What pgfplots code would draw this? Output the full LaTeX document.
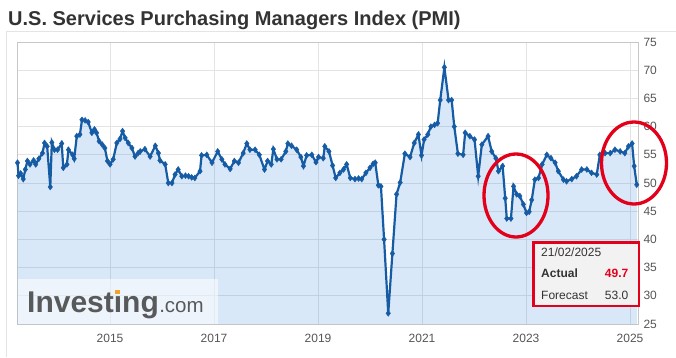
\documentclass[border=0pt]{standalone}
\usepackage{pgfplots}
\pgfplotsset{compat=1.18}
\usepackage{pgfplotstable}
\usepackage{fontspec}
\setmainfont{Liberation Sans}
\definecolor{pmiline}{RGB}{22,92,164}
\definecolor{pmifill}{RGB}{30,120,220}
\definecolor{gridc}{RGB}{228,228,228}
\definecolor{txt}{RGB}{51,51,51}
\definecolor{ticktxt}{RGB}{85,85,85}
\definecolor{redc}{RGB}{226,0,26}
\definecolor{logoc}{RGB}{88,89,91}
\definecolor{logodot}{RGB}{245,160,40}
\newlength\invw
\pgfplotstableread{
year value
2013.22 53.6
2013.24 51.3
2013.28 51.7
2013.33 50.7
2013.37 52.4
2013.41 53.9
2013.46 53.3
2013.53 54.0
2013.57 53.3
2013.63 54.3
2013.70 55.3
2013.74 57.1
2013.79 56.5
2013.85 49.3
2013.88 57.2
2013.93 55.9
2013.99 55.9
2014.07 57.0
2014.10 52.7
2014.17 53.3
2014.20 55.9
2014.28 55.0
2014.31 54.3
2014.36 58.3
2014.42 58.6
2014.46 61.2
2014.52 61.1
2014.58 60.8
2014.65 58.9
2014.70 59.5
2014.74 58.9
2014.79 57.4
2014.85 56.8
2014.90 56.2
2014.95 53.9
2015.00 53.3
2015.06 54.2
2015.13 57.1
2015.19 57.8
2015.24 59.2
2015.29 58.0
2015.35 57.1
2015.42 56.2
2015.48 54.7
2015.54 55.3
2015.58 55.6
2015.67 56.0
2015.77 54.7
2015.87 56.6
2015.93 55.3
2015.96 54.0
2016.06 53.3
2016.12 50.0
2016.19 50.0
2016.25 51.5
2016.31 52.4
2016.38 51.2
2016.45 51.3
2016.51 51.2
2016.57 51.0
2016.63 50.9
2016.73 52.1
2016.76 54.9
2016.86 55.0
2016.96 53.6
2017.07 55.6
2017.15 54.2
2017.21 53.3
2017.31 52.5
2017.39 53.9
2017.47 53.6
2017.56 55.3
2017.63 57.0
2017.69 55.9
2017.79 55.9
2017.87 55.0
2017.97 52.4
2018.03 53.9
2018.10 53.3
2018.14 56.0
2018.21 54.2
2018.29 54.2
2018.38 55.6
2018.42 57.0
2018.49 56.6
2018.59 55.9
2018.67 54.6
2018.72 53.0
2018.78 54.9
2018.88 55.0
2018.96 53.7
2019.01 54.6
2019.10 54.4
2019.13 56.5
2019.21 55.6
2019.28 53.1
2019.34 50.9
2019.42 51.8
2019.49 52.4
2019.55 53.3
2019.62 50.9
2019.71 50.7
2019.78 50.8
2019.84 50.7
2019.92 51.8
2020.00 52.7
2020.06 53.4
2020.10 53.6
2020.16 49.6
2020.21 49.4
2020.27 40.0
2020.35 26.9
2020.43 37.5
2020.51 48.0
2020.58 50.1
2020.67 55.2
2020.77 54.6
2020.85 57.1
2020.93 58.6
2020.99 54.9
2021.04 57.7
2021.11 58.6
2021.17 60.0
2021.24 60.3
2021.30 60.6
2021.35 64.7
2021.43 70.5
2021.51 64.7
2021.57 64.7
2021.62 60.0
2021.69 55.2
2021.79 55.0
2021.83 58.9
2021.92 58.3
2022.01 57.7
2022.08 51.2
2022.15 56.8
2022.27 58.3
2022.34 55.6
2022.42 54.4
2022.47 52.1
2022.55 53.0
2022.60 47.3
2022.63 43.7
2022.71 43.7
2022.76 49.4
2022.82 48.0
2022.88 47.7
2022.95 46.2
2023.01 44.7
2023.06 44.9
2023.11 47.0
2023.17 50.6
2023.24 50.9
2023.31 53.3
2023.40 55.0
2023.48 54.4
2023.56 53.6
2023.62 52.1
2023.72 50.6
2023.78 50.3
2023.88 50.7
2023.97 51.2
2024.07 52.4
2024.17 52.4
2024.26 51.8
2024.36 51.5
2024.42 55.0
2024.52 55.3
2024.62 55.3
2024.71 55.9
2024.81 55.6
2024.90 55.3
2024.97 56.5
2025.04 57.0
2025.08 53.0
2025.13 49.7
}\pmidata
\begin{document}
\settowidth{\invw}{\fontsize{30bp}{32bp}\selectfont\bfseries Invest}%
\begin{tikzpicture}[x=1bp,y=1bp]
\path[use as bounding box] (0,0) rectangle (676,357);
% outer frame
\draw[color=gridc, line width=1bp] (6,0) -- (6,326) -- (676,326);
\node[anchor=base west, inner sep=0pt, text=txt, font=\fontsize{20bp}{24bp}\selectfont\bfseries] at (8,332) {U.S. Services Purchasing Managers Index (PMI)};
\begin{axis}[
  at={(17bp,33bp)}, anchor=south west,
  scale only axis, width=621bp, height=282bp,
  xmin=2013.21, xmax=2025.154, ymin=25, ymax=75,
  xtick={2015,2017,2019,2021,2023,2025},
  xticklabels={2015,2017,2019,2021,2023,2025},
  ytick={25,30,...,75},
  yticklabel pos=right,
  major tick length=0pt,
  grid=major,
  major grid style={draw=gridc, line width=0.8bp},
  axis line style={draw=black!22, line width=0.9bp},
  tick label style={font=\fontsize{12bp}{14bp}\selectfont, text=ticktxt},
  /pgf/number format/assume math mode=true,
  x tick label style={yshift=-7bp},
  y tick label style={xshift=2bp},
  clip=false,
]
\addplot[draw=none, fill=pmifill, fill opacity=0.17] table[x=year,y=value]{\pmidata} \closedcycle;
\addplot[color=pmiline, line width=2.2bp, mark=diamond*, mark size=3bp, mark options={fill=pmiline, draw=pmiline, line width=0.4bp}] table[x=year,y=value]{\pmidata};
\end{axis}
% logo backdrop
\fill[white, fill opacity=0.55] (17.5,33.5) rectangle (218,78);
\begin{scope}[every node/.style={anchor=base west, inner sep=0pt, text=logoc, font=\fontsize{30bp}{32bp}\selectfont\bfseries}]
\node (inv1) at (27,45) {Investing};
\node[font=\fontsize{20.5bp}{22bp}\selectfont] at (inv1.base east) {.com};
\end{scope}
% orange dot over the second i of the logo
\fill[logodot] ([xshift=\invw+1.6bp]27,62.8) rectangle ++(4.9,4.4);
% red annotation ellipses
\draw[redc, line width=3.3bp] (516,161.5) ellipse [x radius=32, y radius=41.5];
\draw[redc, line width=3.3bp] (634,194) ellipse [x radius=32.5, y radius=41];
% info box
\draw[redc, line width=2.5bp, fill={rgb,255:red,242;green,242;blue,242}] (533.5,51) rectangle (639,114.5);
\begin{scope}[every node/.style={inner sep=0pt, text=txt, font=\fontsize{12bp}{14bp}\selectfont}]
\node[anchor=base west] at (541,101) {21/02/2025};
\node[anchor=base west, font=\fontsize{12bp}{14bp}\selectfont\bfseries] at (541,80) {Actual};
\node[anchor=base east, text=redc, font=\fontsize{12bp}{14bp}\selectfont\bfseries] at (628.5,80) {49.7};
\node[anchor=base west] at (541,58) {Forecast};
\node[anchor=base east] at (628.5,58) {53.0};
\end{scope}
\end{tikzpicture}
\end{document}
